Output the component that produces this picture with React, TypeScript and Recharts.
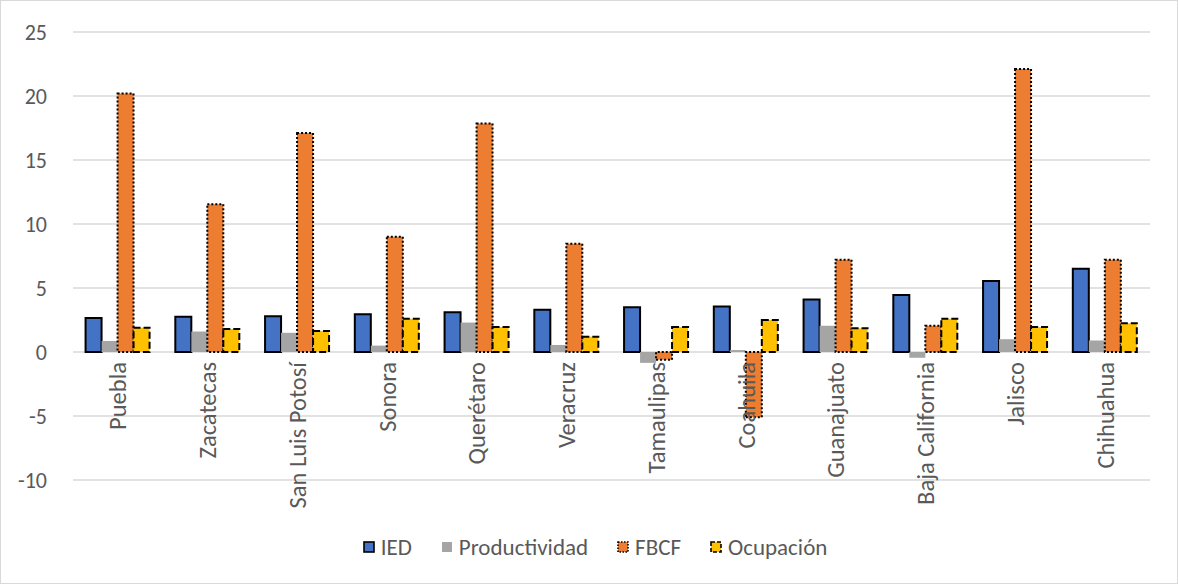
import React from 'react';
import { BarChart, Bar, XAxis, YAxis, CartesianGrid, Legend } from 'recharts';

const states = [
  'Puebla',
  'Zacatecas',
  'San Luis Potosí',
  'Sonora',
  'Querétaro',
  'Veracruz',
  'Tamaulipas',
  'Coahuila',
  'Guanajuato',
  'Baja California',
  'Jalisco',
  'Chihuahua',
];

const ied = [2.65, 2.75, 2.8, 2.95, 3.1, 3.3, 3.5, 3.55, 4.1, 4.45, 5.55, 6.5];
const productividad = [0.86, 1.6, 1.5, 0.5, 2.3, 0.55, -0.85, 0.15, 2.05, -0.45, 1.0, 0.9];
const fbcf = [20.2, 11.55, 17.1, 9.0, 17.85, 8.45, -0.6, -5.1, 7.2, 2.05, 22.1, 7.2];
const ocupacion = [1.9, 1.8, 1.65, 2.6, 1.95, 1.2, 1.95, 2.5, 1.85, 2.6, 1.95, 2.25];

const yTicks = [-10, -5, 0, 5, 10, 15, 20, 25];
const Y_MIN = -10;
const Y_MAX = 25;

const data = states.map((estado, i) => ({
  estado,
  IED: ied[i],
  Productividad: productividad[i],
  FBCF: fbcf[i],
  'Ocupación': ocupacion[i],
}));

const series = [
  { key: 'IED', fill: '#4472C4', stroke: '#000', dash: undefined as string | undefined, width: 2 },
  { key: 'Productividad', fill: '#A5A5A5', stroke: 'none', dash: undefined, width: 0 },
  { key: 'FBCF', fill: '#ED7D31', stroke: '#000', dash: '2 2', width: 2 },
  { key: 'Ocupación', fill: '#FFC000', stroke: '#000', dash: '7 3', width: 2 },
];

const W = 1176;
const H = 582;
const MARGIN = { top: 31, right: 27, left: 12, bottom: 16 };
const X_AXIS_H = 47;
const LEGEND_H = 40;
const PLOT_H = H - MARGIN.top - MARGIN.bottom - X_AXIS_H - LEGEND_H;

const FONT = 'Carlito, Lato, sans-serif';
const TEXT = '#595959';

// category names sit on the zero line, not under the plot
const CategoryTick = (props: any) => {
  const { x, y, payload } = props;
  const zeroY = y - (PLOT_H * (0 - Y_MIN)) / (Y_MAX - Y_MIN);
  return (
    <text
      transform={`translate(${x},${zeroY + 10}) rotate(-90)`}
      textAnchor="end"
      dy="0.35em"
      fill={TEXT}
      fontSize={24.5}
      fontFamily={FONT}
    >
      {payload.value}
    </text>
  );
};

const LegendContent = () => (
  <div
    style={{
      height: LEGEND_H,
      display: 'flex',
      justifyContent: 'center',
      alignItems: 'center',
      gap: 29,
      paddingLeft: 27,
      fontFamily: FONT,
      fontSize: 23,
      color: TEXT,
    }}
  >
    {series.map((s) => (
      <div key={s.key} style={{ display: 'flex', alignItems: 'center', gap: 6 }}>
        <svg width={12} height={12}>
          <rect
            x={1}
            y={1}
            width={10}
            height={10}
            fill={s.fill}
            stroke={s.stroke}
            strokeWidth={s.width ? 1.6 : 0}
            strokeDasharray={s.dash ? (s.key === 'FBCF' ? '1.5 1.5' : '4 2') : undefined}
          />
        </svg>
        <span>{s.key}</span>
      </div>
    ))}
  </div>
);

export default function App() {
  return (
    <div
      style={{
        position: 'fixed',
        left: 0,
        top: 0,
        width: 1178,
        height: 584,
        border: '1px solid #D9D9D9',
        boxSizing: 'border-box',
        background: '#fff',
      }}
    >
      <BarChart width={W} height={H} data={data} margin={MARGIN} barGap={0} barCategoryGap="14%">
        <CartesianGrid vertical={false} stroke="#D9D9D9" strokeWidth={1.4} />
        <XAxis
          dataKey="estado"
          height={X_AXIS_H}
          axisLine={false}
          tickLine={false}
          tickSize={0}
          tickMargin={0}
          interval={0}
          tick={<CategoryTick />}
        />
        <YAxis
          domain={[Y_MIN, Y_MAX]}
          ticks={yTicks}
          width={60}
          axisLine={false}
          tickLine={false}
          tickMargin={20}
          tick={{ fill: TEXT, fontSize: 22, fontFamily: FONT }}
        />
        <Legend verticalAlign="bottom" height={LEGEND_H} content={<LegendContent />} />
        {series.map((s) => (
          <Bar
            key={s.key}
            dataKey={s.key}
            fill={s.fill}
            stroke={s.stroke}
            strokeWidth={s.width}
            strokeDasharray={s.dash}
            isAnimationActive={false}
          />
        ))}
      </BarChart>
    </div>
  );
}
